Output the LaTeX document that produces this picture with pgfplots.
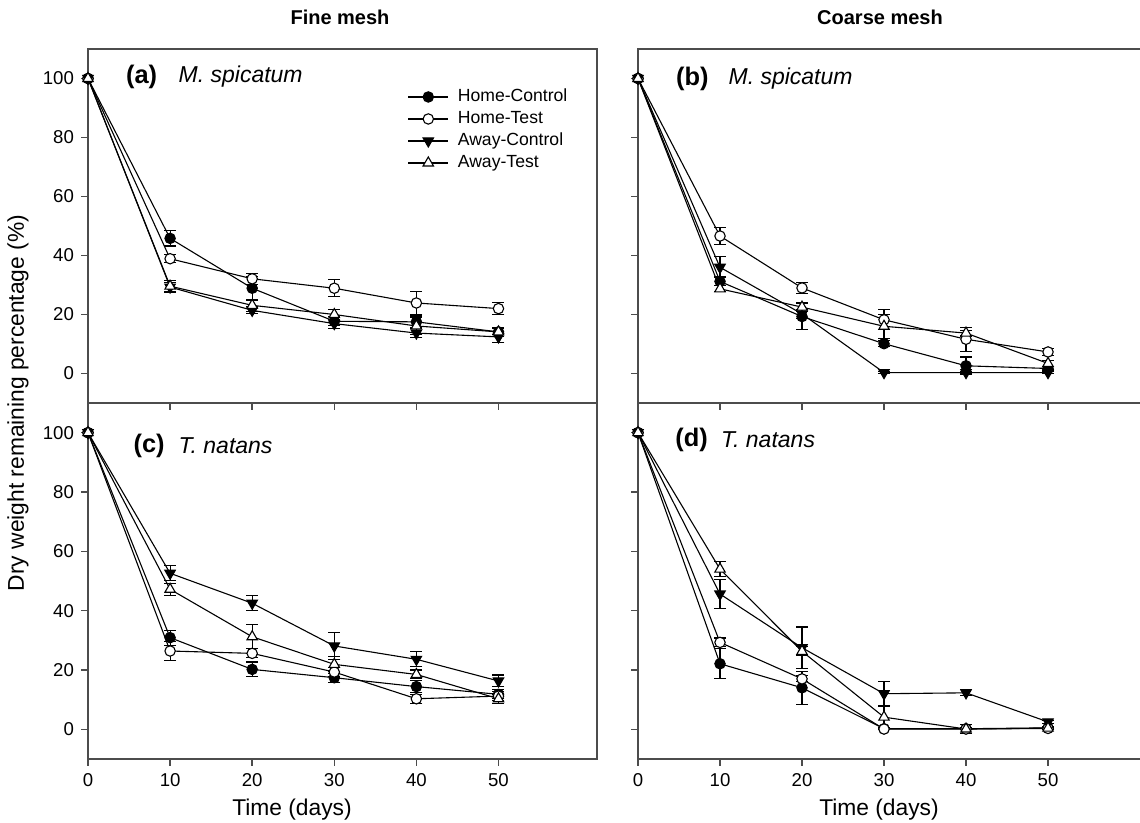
\documentclass[border=0pt]{standalone}
\usepackage{fontspec}
\setmainfont{Liberation Sans}
\usepackage{pgfplots}
\pgfplotsset{compat=1.18}

\definecolor{axisgray}{gray}{0.3}

\pgfplotsset{
  panel/.style={
    scale only axis, anchor=south west,
    xmin=0, ymin=-10, ymax=110,
    xtick={0,10,...,50}, ytick={0,20,...,100},
    tick pos=left, tick align=outside, major tick length=3.5pt,
    axis line style={draw=axisgray, line width=0.75pt},
    every tick/.style={draw=axisgray, line width=0.75pt},
    tick label style={font=\fontsize{9.3}{11}\selectfont},
    /pgf/number format/assume math mode=true,
  },
  ser/.style={black, line width=0.55pt, mark size=2.6pt,
    error bars/y dir=both, error bars/y explicit,
    error bars/error bar style={line width=0.55pt, black},
    error bars/error mark options={rotate=90, mark size=3pt, line width=0.55pt, black}},
  serHC/.style={ser, mark=*, mark options={fill=black, draw=black}},
  serHT/.style={ser, mark=*, mark options={fill=white, draw=black}},
  serAC/.style={ser, mark=triangle*, mark size=3pt, mark options={fill=black, draw=black, rotate=180}},
  serAT/.style={ser, mark=triangle*, mark size=3pt, mark options={fill=white, draw=black}},
}
\tikzset{
  lab/.style={anchor=west, inner sep=0pt, font=\fontsize{12.7}{14}\selectfont\bfseries},
  spec/.style={anchor=west, inner sep=0pt, font=\fontsize{11.5}{14}\selectfont\itshape},
}

\begin{document}
\begin{tikzpicture}
\path[use as bounding box] (0,0) rectangle (570pt,411.5pt);

% (a) fine mesh, M. spicatum
\begin{axis}[panel, at={(44pt,210pt)}, width=254.5pt, height=177pt, xmax=62,
  xticklabels={},
  legend style={at={(axis cs:38.9,97.6)}, anchor=north west, draw=none, fill=none,
    inner sep=0pt, font=\fontsize{8.8}{10}\selectfont,
    nodes={inner sep=1pt, text height=7pt, text depth=2pt},
    /tikz/every odd column/.append style={column sep=3.5pt}},
  legend cell align=left,
  legend image code/.code={\draw[mark repeat=2,mark phase=2] plot coordinates {(0pt,0pt)(10pt,0pt)(20pt,0pt)};}]
\addplot[serHC] coordinates {(0,100) +- (0,0) (10,45.8) +- (0,2.6) (20,28.9) +- (0,4) (30,17.7) +- (0,1.5) (40,17.5) +- (0,2) (50,14.1) +- (0,1)};
\addlegendentry{Home-Control}
\addplot[serHT] coordinates {(0,100) +- (0,0) (10,38.9) +- (0,1.4) (20,32.1) +- (0,1.8) (30,28.9) +- (0,2.9) (40,23.9) +- (0,4) (50,22.0) +- (0,2.1)};
\addlegendentry{Home-Test}
\addplot[serAC] coordinates {(0,100) +- (0,0) (10,29.3) +- (0,1.5) (20,21.4) +- (0,1.2) (30,16.9) +- (0,1.5) (40,13.7) +- (0,1.5) (50,12.4) +- (0,1.8)};
\addlegendentry{Away-Control}
\addplot[serAT] coordinates {(0,100) +- (0,0) (10,29.6) +- (0,2) (20,23.1) +- (0,2) (30,20.0) +- (0,1.8) (40,16.1) +- (0,3) (50,14.1) +- (0,1.5)};
\addlegendentry{Away-Test}
\node[lab] at (axis cs:4.6,100.5) {(a)};
\node[spec] at (axis cs:11.0,100.5) {M. spicatum};
\end{axis}

% (b) coarse mesh, M. spicatum
\begin{axis}[panel, at={(319pt,210pt)}, width=252pt, height=177pt, xmax=61.46,
  xticklabels={}, yticklabels={}]
\addplot[serHC] coordinates {(0,100) +- (0,0) (10,31.2) +- (0,1.5) (20,19.3) +- (0,4.5) (30,10.1) +- (0,1) (40,2.6) +- (0,3) (50,1.7) +- (0,0.8)};
\addplot[serHT] coordinates {(0,100) +- (0,0) (10,46.6) +- (0,2.8) (20,29.0) +- (0,1.8) (30,18.2) +- (0,3.4) (40,11.6) +- (0,4) (50,7.3) +- (0,1.2)};
\addplot[serAC] coordinates {(0,100) +- (0,0) (10,36.0) +- (0,3.6) (20,20.2) +- (0,1.5) (30,0.3) +- (0,0.3) (40,0.3) +- (0,0.3) (50,0.3) +- (0,0.3)};
\addplot[serAT] coordinates {(0,100) +- (0,0) (10,28.7) +- (0,1) (20,22.5) +- (0,1.5) (30,16.0) +- (0,4) (40,13.7) +- (0,1) (50,3.4) +- (0,1)};
\node[lab] at (axis cs:4.6,100) {(b)};
\node[spec] at (axis cs:11.0,100) {M. spicatum};
\end{axis}

% (c) fine mesh, T. natans
\begin{axis}[panel, at={(44pt,32pt)}, width=254.5pt, height=178pt, xmax=62]
\addplot[serHC] coordinates {(0,100) +- (0,0) (10,30.9) +- (0,2.5) (20,20.2) +- (0,2.5) (30,17.4) +- (0,1.5) (40,14.4) +- (0,2) (50,11.8) +- (0,1.5)};
\addplot[serHT] coordinates {(0,100) +- (0,0) (10,26.4) +- (0,3.2) (20,25.6) +- (0,1.5) (30,19.3) +- (0,1.5) (40,10.3) +- (0,1.5) (50,11.2) +- (0,1.5)};
\addplot[serAC] coordinates {(0,100) +- (0,0) (10,52.6) +- (0,2.5) (20,42.5) +- (0,2.5) (30,28.1) +- (0,4.5) (40,23.6) +- (0,2.5) (50,16.3) +- (0,2)};
\addplot[serAT] coordinates {(0,100) +- (0,0) (10,47.2) +- (0,2) (20,31.2) +- (0,4) (30,21.9) +- (0,2.5) (40,18.5) +- (0,1.5) (50,10.3) +- (0,1.5)};
\node[lab] at (axis cs:5.5,95.5) {(c)};
\node[spec] at (axis cs:11.0,95.5) {T. natans};
\end{axis}

% (d) coarse mesh, T. natans
\begin{axis}[panel, at={(319pt,32pt)}, width=252pt, height=178pt, xmax=61.46,
  yticklabels={}]
\addplot[serHC] coordinates {(0,100) +- (0,0) (10,22.1) +- (0,5) (20,14.0) +- (0,5.5) (30,0.2) +- (0,0.3) (40,0.2) +- (0,0.3) (50,0.5) +- (0,0.3)};
\addplot[serHT] coordinates {(0,100) +- (0,0) (10,29.3) +- (0,1.5) (20,17.0) +- (0,1) (30,0.1) +- (0,0.3) (40,0.1) +- (0,0.3) (50,0.3) +- (0,0.3)};
\addplot[serAC] coordinates {(0,100) +- (0,0) (10,45.6) +- (0,5) (20,27.5) +- (0,7) (30,12.0) +- (0,4) (40,12.3) +- (0,1) (50,2.5) +- (0,0.5)};
\addplot[serAT] coordinates {(0,100) +- (0,0) (10,54.0) +- (0,2.5) (20,26.3) +- (0,1.5) (30,4.1) +- (0,3.5) (40,0.1) +- (0,1.5) (50,0.4) +- (0,0.5)};
\node[lab] at (axis cs:4.5,97.5) {(d)};
\node[spec] at (axis cs:10.1,97.5) {T. natans};
\end{axis}

\node[font=\fontsize{10}{12}\selectfont\bfseries] at (170pt,403pt) {Fine mesh};
\node[font=\fontsize{10}{12}\selectfont\bfseries] at (440pt,403pt) {Coarse mesh};
\node[font=\fontsize{11.4}{13}\selectfont] at (146pt,6.5pt) {Time (days)};
\node[font=\fontsize{11.4}{13}\selectfont] at (439.5pt,6.5pt) {Time (days)};
\node[rotate=90, font=\fontsize{11.4}{13}\selectfont] at (9pt,210pt) {Dry weight remaining percentage (\%)};
\end{tikzpicture}
\end{document}
